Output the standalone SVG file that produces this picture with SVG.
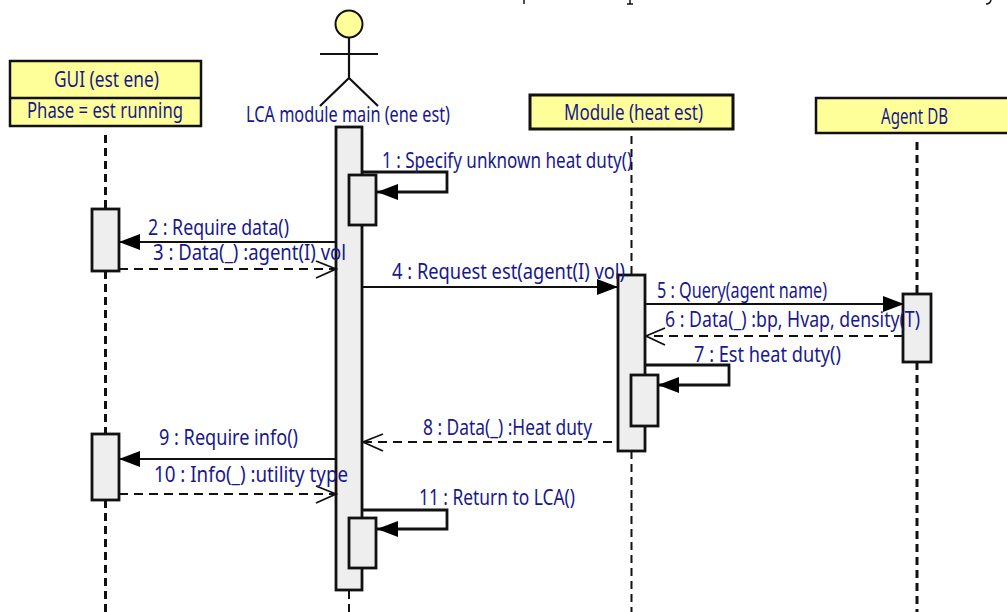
<svg xmlns="http://www.w3.org/2000/svg" width="1007" height="612" viewBox="0 0 1007 612">
<style>
text{font-family:"Noto Sans","Liberation Sans",sans-serif;font-size:21px;fill:#18188c}
.box{fill:#ffff99;stroke:#111;stroke-width:2.5}
.act{fill:#eeeeee;stroke:#111;stroke-width:2.800}
.life{fill:none;stroke:#111;stroke-width:3;stroke-dasharray:8 5}
.thin{stroke-width:2}
.sol{fill:none;stroke:#111;stroke-width:2.2}
.self{fill:none;stroke:#111;stroke-width:2.8}
.dash{fill:none;stroke:#111;stroke-width:2.200;stroke-dasharray:9 6}
.open{fill:none;stroke:#111;stroke-width:1.800}
.stick{fill:none;stroke:#111;stroke-width:2.200}
</style>
<defs>
<marker id="fill" markerUnits="userSpaceOnUse" markerWidth="22" markerHeight="18" refX="21" refY="8" orient="auto"><path d="M0 0L21 8L0 16Z" fill="#000"/></marker>
</defs>
<rect width="1007" height="612" fill="#fff"/>
<g id="page-fragments"><path d="M524 0V4" stroke="#111" stroke-width="1.5"/><path d="M630 0V4M627 4H633" stroke="#111" stroke-width="1.5" fill="none"/><path d="M991 0Q990 4 986 4" stroke="#111" stroke-width="1.5" fill="none"/></g>
<g id="gui">
<path class="life" d="M105.500 135V209M105.500 271V434M105.500 500V612"/>
<rect class="box" x="10" y="61" width="191" height="65"/><path d="M10 98H201" stroke="#111" stroke-width="2.500"/>
<text x="54" y="87" textLength="105" lengthAdjust="spacingAndGlyphs">GUI (est ene)</text>
<text x="27" y="118" textLength="156" lengthAdjust="spacingAndGlyphs">Phase = est running</text>
<rect class="act" x="92" y="209" width="27" height="62"/><rect class="act" x="92" y="434" width="27" height="66"/>
</g>
<g id="lca-main">
<circle cx="349" cy="24" r="13.500" fill="#ffff99" stroke="#111" stroke-width="2"/>
<path class="stick" d="M349 37V78M320 54H378M320 106L349 78L378 106"/>
<path class="life thin" d="M349 591V612"/>
<text x="246" y="122" textLength="204" lengthAdjust="spacingAndGlyphs">LCA module main (ene est)</text>
<rect class="act" x="336" y="127" width="26" height="463"/>
<rect class="act" x="349" y="175" width="27" height="50"/><rect class="act" x="349" y="518" width="27" height="50"/>
</g>
<g id="module-heat">
<path class="life thin" d="M631.500 136V275M631.500 451V612"/>
<rect class="box" style="stroke-width:3" x="530" y="95" width="203" height="34"/>
<text x="564" y="120" textLength="139" lengthAdjust="spacingAndGlyphs">Module (heat est)</text>
<rect class="act" x="618" y="275" width="27" height="176"/><rect class="act" x="631" y="375" width="27" height="51"/>
</g>
<g id="agent-db">
<path class="life" d="M917 142V294M917 362V612"/>
<rect class="box" x="816" y="98" width="200" height="35"/>
<text x="881" y="124" textLength="67" lengthAdjust="spacingAndGlyphs">Agent DB</text>
<rect class="act" x="903" y="294" width="28" height="68"/>
</g>
<g id="connectors">
<path class="self" d="M362 172H447V192H377" marker-end="url(#fill)"/>
<path class="sol" d="M336 242H119" marker-end="url(#fill)"/>
<path class="dash" d="M119 269H335"/><path class="open" d="M316 261L336 269L316 278"/>
<path class="sol" d="M362 287H618" marker-end="url(#fill)"/>
<path class="sol" d="M645 304H904" marker-end="url(#fill)"/>
<path class="dash" d="M903 336H647"/><path class="open" d="M665 328L646 336L665 345"/>
<path class="self" d="M645 365H729V385H658" marker-end="url(#fill)"/>
<path class="dash" d="M612 442H364"/><path class="open" d="M383 434L363 442L383 451"/>
<path class="sol" d="M336 459H119" marker-end="url(#fill)"/>
<path class="dash" d="M119 494H335"/><path class="open" d="M316 486L336 494L316 503"/>
<path class="self" d="M362 510H447V529H377" marker-end="url(#fill)"/>
<text x="382" y="168" textLength="250" lengthAdjust="spacingAndGlyphs">1 : Specify unknown heat duty()</text>
<text x="148" y="235" textLength="141" lengthAdjust="spacingAndGlyphs">2 : Require data()</text>
<text x="153" y="260" textLength="193" lengthAdjust="spacingAndGlyphs">3 : Data(_) :agent(I) vol</text>
<text x="392" y="279" textLength="233" lengthAdjust="spacingAndGlyphs">4 : Request est(agent(I) vol)</text>
<text x="657" y="298" textLength="170" lengthAdjust="spacingAndGlyphs">5 : Query(agent name)</text>
<text x="665" y="327" textLength="255" lengthAdjust="spacingAndGlyphs">6 : Data(_) :bp, Hvap, density(T)</text>
<text x="694" y="362" textLength="147" lengthAdjust="spacingAndGlyphs">7 : Est heat duty()</text>
<text x="423" y="435" textLength="169" lengthAdjust="spacingAndGlyphs">8 : Data(_) :Heat duty</text>
<text x="159" y="445" textLength="139" lengthAdjust="spacingAndGlyphs">9 : Require info()</text>
<text x="154" y="482" textLength="194" lengthAdjust="spacingAndGlyphs">10 : Info(_) :utility type</text>
<text x="419" y="505" textLength="156" lengthAdjust="spacingAndGlyphs">11 : Return to LCA()</text>
</g>
</svg>
